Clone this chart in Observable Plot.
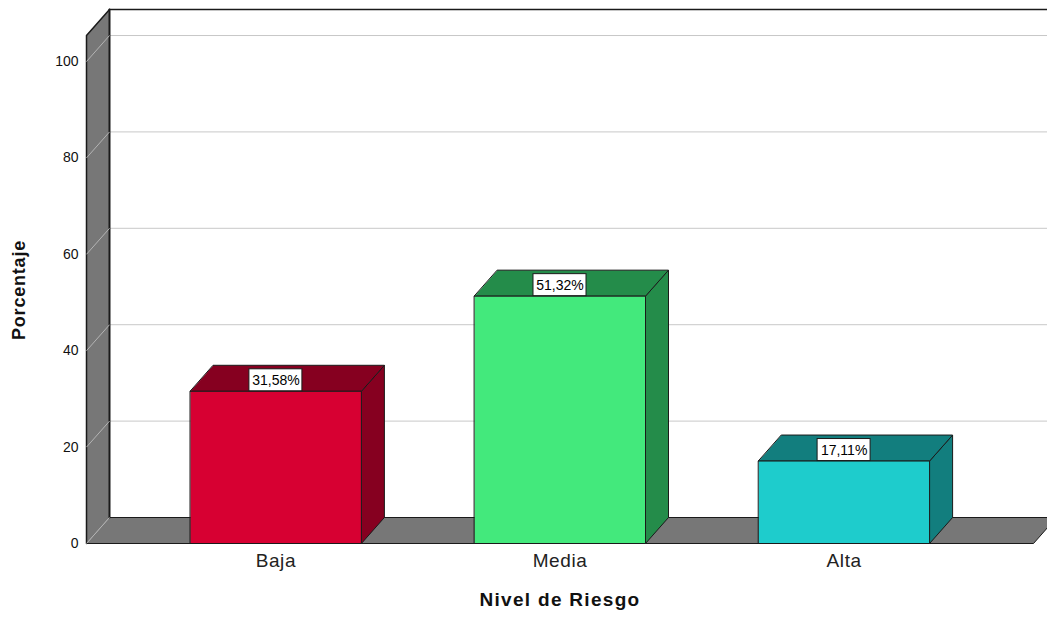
<!DOCTYPE html>
<html><head><meta charset="utf-8">
<script src="https://cdn.jsdelivr.net/npm/d3@7"></script>
<script src="https://cdn.jsdelivr.net/npm/@observablehq/plot@0.6"></script>
<style>
body{margin:0;background:#fff;}
#chart svg{font-family:"Liberation Sans",Arial,sans-serif;}
</style>
</head><body><div id="chart"></div>
<script>
// ---- data ----
const categories = ["Baja", "Media", "Alta"];
const percentages = [31.58, 51.32, 17.11];
const frontColors = ["#d70032", "#43e97c", "#1ecccc"];
const darkColors = ["#860020", "#248c4a", "#127e7e"];
const yTicks = [0, 20, 40, 60, 80, 100];
const xTitle = "Nivel de Riesgo";
const yTitle = "Porcentaje";

// ---- layout ----
const W = 1047, H = 617;
const marginLeft = 86, marginRight = 14, marginTop = 0, marginBottom = 74;
const xDomain = [-2 / 3, categories.length - 1 + 2 / 3];
const yDomain = [0, 112.66];
const axisMax = 105.4;
const pxPerX = (W - marginLeft - marginRight) / (xDomain[1] - xDomain[0]);
const pxPerY = (H - marginTop - marginBottom) / (yDomain[1] - yDomain[0]);
const DX = 23 / pxPerX, DY = 26 / pxPerY;      // 3D depth
const HALF = 85.5 / pxPerX;                    // half bar width
const BOXW = 53 / pxPerX, BOXH = 22 / pxPerY;  // label box
const X0 = xDomain[0], X1 = xDomain[1];

const edge = "#1a1a1a", gray = "#777777", grid = "#c8c8c8";

const bars = categories.map((c, i) => ({cat: c, i, v: percentages[i], front: frontColors[i], dark: darkColors[i]}));

const P = (x, y) => ({x, y});
const poly = (pts, fill, stroke = "none") =>
  Plot.line(pts, {x: "x", y: "y", curve: "linear-closed", fill, stroke, strokeWidth: 1});
const seg = (pts, stroke, strokeWidth = 1) =>
  Plot.line(pts, {x: "x", y: "y", stroke, strokeWidth});

const marks = [];
// back wall top edge
marks.push(seg([P(X0 + DX, axisMax + DY), P(X1 + DX, axisMax + DY)], edge, 1.5));
// back wall gridlines
marks.push(Plot.link(yTicks.filter(t => t > 0), {x1: () => X0 + DX, x2: () => X1 + DX, y1: d => d + DY, y2: d => d + DY, stroke: grid, strokeWidth: 1}));
// floor
marks.push(poly([P(X0, 0), P(X1, 0), P(X1 + DX, DY), P(X0 + DX, DY)], gray));
marks.push(seg([P(X0, 0), P(X1, 0), P(X1 + DX, DY)], edge));
marks.push(seg([P(X0 + DX, DY), P(X1 + DX, DY)], edge));
// left wall
marks.push(poly([P(X0, 0), P(X0, axisMax), P(X0 + DX, axisMax + DY), P(X0 + DX, DY)], gray));
marks.push(seg([P(X0, 0), P(X0, axisMax), P(X0 + DX, axisMax + DY)], edge, 1.5));
marks.push(seg([P(X0 + DX, DY), P(X0 + DX, axisMax + DY)], edge, 2));
// wall diagonal gridlines
marks.push(Plot.link(yTicks, {x1: () => X0, x2: () => X0 + DX, y1: d => d, y2: d => d + DY, stroke: "#b4b4b4", strokeWidth: 1}));
// bars
for (const b of bars) {
  const l = b.i - HALF, r = b.i + HALF;
  marks.push(poly([P(r, 0), P(r + DX, DY), P(r + DX, b.v + DY), P(r, b.v)], b.dark, edge));
  marks.push(poly([P(l, b.v), P(r, b.v), P(r + DX, b.v + DY), P(l + DX, b.v + DY)], b.dark, edge));
  marks.push(poly([P(l, 0), P(r, 0), P(r, b.v), P(l, b.v)], b.front, edge));
}
// value labels
marks.push(Plot.rect(bars, {x1: d => d.i - BOXW / 2, x2: d => d.i + BOXW / 2, y1: "v", y2: d => d.v + BOXH, fill: "white", stroke: edge, strokeWidth: 1}));
marks.push(Plot.text(bars, {x: "i", y: "v", dy: -11, text: d => d.v.toFixed(2).replace(".", ",") + "%", fontSize: 14, fill: "#000"}));
// category labels
marks.push(Plot.text(bars, {x: "i", y: () => 0, dy: 17, text: "cat", fontSize: 19, fill: "#222"}));
// axis titles
marks.push(Plot.text([xTitle], {frameAnchor: "bottom", dy: 62, text: d => d, fontSize: 19, fontWeight: "bold", fill: "#111"}));
marks.push(Plot.text([yTitle], {frameAnchor: "left", textAnchor: "middle", dx: -67, dy: 18, rotate: -90, text: d => d, fontSize: 18, fontWeight: "bold", fill: "#111"}));

const chart = Plot.plot({
  width: W, height: H,
  marginLeft, marginRight, marginTop, marginBottom,
  style: {fontSize: "14px", background: "white", overflow: "hidden", color: "#111"},
  x: {domain: xDomain, axis: null},
  y: {domain: yDomain, ticks: 6, tickSize: 0, tickPadding: 8, label: null, tickFormat: d => d},
  marks
});
document.getElementById("chart").appendChild(chart);

// text spacing tweaks
d3.select(chart).selectAll("text").each(function () {
  const t = this.textContent;
  if (t === xTitle) this.setAttribute("letter-spacing", "1.3px");
  if (t === yTitle) this.setAttribute("letter-spacing", "0.8px");
  if (categories.includes(t)) this.setAttribute("letter-spacing", "0.6px");
});
</script>
</body></html>
